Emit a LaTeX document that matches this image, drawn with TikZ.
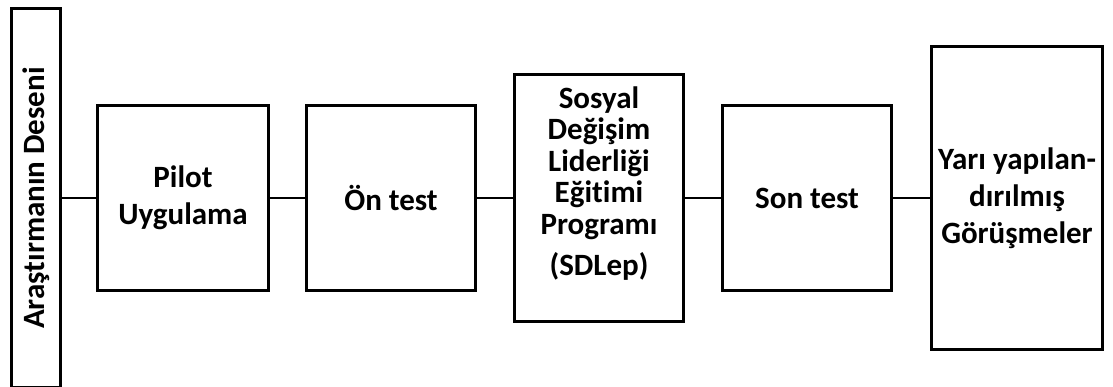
\documentclass[tikz,border=0pt]{standalone}
\usepackage{fontspec}
\setmainfont{Carlito}[Ligatures=NoCommon]
\usepackage{tikz}
\usetikzlibrary{positioning}

\begin{document}
\begin{tikzpicture}[x=1pt,y=-1pt]
\tikzstyle{phase}=[rectangle,draw=black,line width=2.6pt,fill=white,
inner sep=0pt,minimum width=169.4pt,minimum height=184.4pt,align=center,
font=\fontsize{31}{37}\selectfont\bfseries]
\tikzstyle{link}=[line width=2pt]
\useasboundingbox (0,0) rectangle (1113,387);

\node[phase,minimum width=49.4pt,minimum height=379.4pt] (design) at (36,198)
 {\rotatebox{90}{Araştırmanın Deseni}};
\node[phase,minimum width=171.4pt] (pilot) [right=34pt of design] {Pilot\\Uygulama};
\node[phase] (pre test) [right=35pt of pilot] {Ön test};
\node[phase,minimum height=247.4pt,font=\fontsize{31}{31.5}\selectfont\bfseries]
 (program) [right=36pt of pre test]
 {Sosyal\\Değişim\\Liderliği\\Eğitimi\\Programı\\[10pt](SDLep)\\[2pt]\mbox{}};
\node[phase] (post test) [right=36pt of program] {Son test};
\node[phase,minimum width=171.4pt,minimum height=302.4pt] (interviews)
 [right=37pt of post test] {Yarı yapılan-\\dırılmış\\Görüşmeler};

\draw[link] (design) -- (pilot);
\draw[link] (pilot) -- (pre test);
\draw[link] (pre test) -- (program);
\draw[link] (program) -- (post test);
\draw[link] (post test) -- (interviews);
\end{tikzpicture}
\end{document}
